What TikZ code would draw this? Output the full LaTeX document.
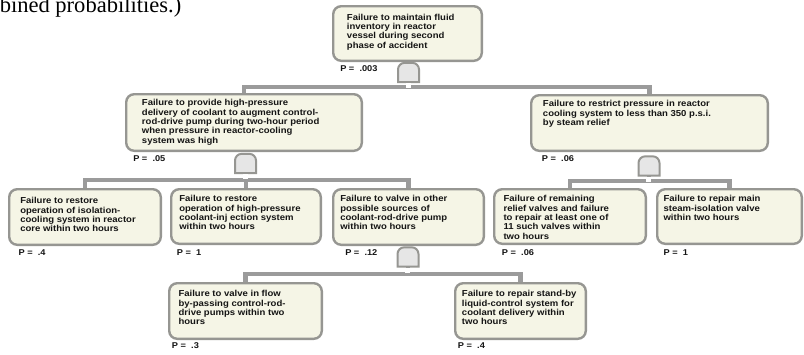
\documentclass[tikz,border=0pt]{standalone}
\usepackage{fontspec}
\setmainfont{Liberation Serif}
\newfontfamily\labelfont[FakeStretch=1.1]{Liberation Sans}

\definecolor{boxfill}{RGB}{245,245,230}
\definecolor{boxline}{RGB}{150,150,146}
\definecolor{barcolor}{RGB}{155,155,155}
\definecolor{gatefill}{RGB}{230,230,230}
\definecolor{inktext}{RGB}{20,20,20}

\pgfdeclarelayer{background}
\pgfsetlayers{background,main}

% fault-tree event box: name, left, top, width, height (pixel units)
\newcommand\ftbox[5]{%
  \node[eventbox, minimum width={(#4-2.4)*0.75pt}, minimum height={(#5-2.4)*0.75pt}]
    (#1) at (#2+1.2,#3+1.2) {};}

% gate symbol drawn over its (invisible) placeholder node
\newcommand\ftgate[1]{%
  \draw[gateline] (#1.south west) [rounded corners=5pt] -- (#1.north west)
    -- (#1.north east) [sharp corners] -- (#1.south east) -- cycle;
  \fill[white] ([xshift=-1.9pt,yshift=-0.8pt]#1.south) rectangle ++(5,5.2);}

\begin{document}
\begin{tikzpicture}[x=0.75pt,y=-0.75pt,
  eventbox/.style={draw=boxline, line width=1.8pt, fill=boxfill,
    rounded corners=6pt, inner sep=0pt, outer sep=0pt, anchor=north west},
  evtext/.style={font={\labelfont\bfseries\fontsize{6.5}{7.1}\selectfont},
    align=left, inner sep=0pt, anchor=north west, text=inktext},
  plabel/.style={font={\labelfont\bfseries\fontsize{6.3}{7}\selectfont},
    inner sep=0pt, anchor=west, text=inktext},
  gatebox/.style={minimum width=15.75pt, minimum height=14.5pt,
    inner sep=0pt, outer sep=0pt},
  gateline/.style={draw=boxline, fill=gatefill, line width=1.5pt},
  bar/.style={draw=barcolor, line width=3.2pt}
]
\useasboundingbox (0,0) rectangle (804,354);

% caption fragment at the top left
\node[anchor=base west, inner sep=0pt, font={\fontsize{16.9}{20}\selectfont}]
  (caption) at (-0.5,12.8) {bined probabilities.)};

% event boxes
\ftbox{top}{332}{5}{151}{57}
\ftbox{lm}{125}{93}{238}{59}
\ftbox{rm}{530}{94}{239}{58}
\ftbox{c1}{8}{188}{154}{58}
\ftbox{c2}{170}{188}{152}{57}
\ftbox{c3}{332}{188}{153}{58}
\ftbox{c4}{493}{188}{154}{57}
\ftbox{c5}{656}{188}{147}{57}
\ftbox{c6}{168}{282}{155}{58}
\ftbox{c7}{454}{282}{133}{58}

% gate placeholders
\node[gatebox] (g0) at (408.5,72.5) {};
\node[gatebox] (g1) at (245.5,163.5) {};
\node[gatebox] (g2) at (649,166) {};
\node[gatebox] (g3) at (408,257) {};

% junction points on the horizontal bars
\coordinate (j0) at (408.5,87);
\coordinate (j1) at (245.5,180);
\coordinate (j2) at (649,181);
\coordinate (j3) at (408,274);

% connectors, kept behind boxes and gates
\begin{pgfonlayer}{background}
\draw[bar] (g0.south) -- (j0);
\draw[bar] (j0) -| (lm.north);
\draw[bar] (j0) -| (rm.north);
\draw[bar] (g1.south) -- (j1);
\draw[bar] (j1) -| (c1.north);
\draw[bar] (j1) -| (c2.north);
\draw[bar] (j1) -| (c3.north);
\draw[bar] (g2.south) -- (j2);
\draw[bar] (j2) -| (c4.north);
\draw[bar] (j2) -| (c5.north);
\draw[bar] (g3.south) -- (j3);
\draw[bar] (j3) -| (c6.north);
\draw[bar] (j3) -| (c7.north);
\end{pgfonlayer}

% gates
\ftgate{g0}
\ftgate{g1}
\ftgate{g2}
\ftgate{g3}

% event descriptions
\node[evtext] (ttop) at (346.7,13.5) {Failure to maintain fluid\\inventory in reactor\\vessel during second\\phase of accident};
\node[evtext] (tlm) at (141.7,99) {Failure to provide high-pressure\\delivery of coolant to augment control-\\rod-drive pump during two-hour period\\when pressure in reactor-cooling\\system was high};
\node[evtext] (trm) at (542.7,100) {Failure to restrict pressure in reactor\\cooling system to less than 350 p.s.i.\\by steam relief};
\node[evtext] (tc1) at (20,197) {Failure to restore\\operation of isolation-\\cooling system in reactor\\core within two hours};
\node[evtext] (tc2) at (179,195) {Failure to restore\\operation of high-pressure\\coolant-inj ection system\\within two hours};
\node[evtext] (tc3) at (340,195) {Failure to valve in other\\possible sources of\\coolant-rod-drive pump\\within two hours};
\node[evtext] (tc4) at (503.3,195) {Failure of remaining\\relief valves and failure\\to repair at least one of\\11 such valves within\\two hours};
\node[evtext] (tc5) at (663.3,195) {Failure to repair main\\steam-isolation valve\\within two hours};
\node[evtext] (tc6) at (178.3,290) {Failure to valve in flow\\by-passing control-rod-\\drive pumps within two\\hours};
\node[evtext] (tc7) at (461.7,290) {Failure to repair stand-by\\liquid-control system for\\coolant delivery within\\two hours};

% probabilities
\node[plabel] (ptop) at (340,69) {P =\ \ .003};
\node[plabel] (plm) at (133,159) {P =\ \ .05};
\node[plabel] (prm) at (541.7,159) {P =\ \ .06};
\node[plabel] (pc1) at (18.3,253) {P =\ \ .4};
\node[plabel] (pc2) at (176.7,253) {P =\ \ 1};
\node[plabel] (pc3) at (345,253) {P =\ \ .12};
\node[plabel] (pc4) at (501.7,253) {P =\ \ .06};
\node[plabel] (pc5) at (663.3,253) {P =\ \ 1};
\node[plabel] (pc6) at (171.7,346) {P =\ \ .3};
\node[plabel] (pc7) at (457.7,346) {P =\ \ .4};
\end{tikzpicture}
\end{document}
